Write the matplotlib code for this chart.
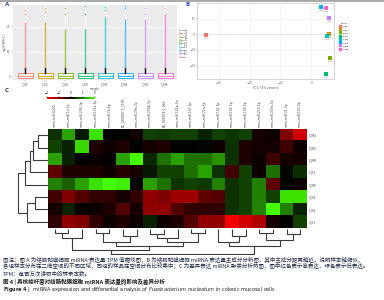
import numpy as np
import matplotlib
matplotlib.use('Agg')
import matplotlib.pyplot as plt
from matplotlib.colors import LinearSegmentedColormap
from matplotlib.collections import LineCollection
from matplotlib.patches import Patch
from matplotlib.lines import Line2D

CJK = ['Noto Sans CJK SC', 'DejaVu Sans']

# ---- data ----
samples = ['C_K1', 'C_K2', 'C_K4', 'C_K8', 'C_M1', 'C_M4', 'C_M5', 'C_M8']
colors = ['#F8766D', '#CD9600', '#7CAE00', '#00BE67',
          '#00BFC4', '#00A9FF', '#C77CFF', '#FF61CC']

# panel A: TPM boxplot summary per sample
box_q1 = [-0.5, -0.5, -0.5, -0.5, -0.5, -0.5, -0.5, -0.5]
box_med = [0.3, 0.3, 0.3, 0.3, 0.3, 0.3, 0.3, 0.3]
box_q3 = [1.5, 1.5, 1.5, 1.5, 1.5, 1.5, 1.5, 1.5]
whisk_hi = [3.5, 3.5, 3.5, 3.5, 3.5, 3.5, 3.5, 3.5]
dense_top = [22, 22, 19, 19, 24, 23, 23, 25]
sparse_out = [[25, 27], [26, 27.5], [25, 27.5], [25, 28.3],
              [27, 28], [27.5, 28.5], [25, 27.5], [27.5]]

# panel B: PCA
pc1 = [-34, 5.8, 6.1, 4.8, 5.1, 3.2, 5.8, 4.8]
pc2 = [-0.3, 0.3, -15, -25.5, -1, 17.7, 10.6, 17]

# panel C: heatmap
row_names = ['C_M4', 'C_M1', 'C_M8', 'C_K2', 'C_M5', 'C_K4', 'C_K8', 'C_K1']
col_names = ['mmu-miR-6240', 'mmu-miR-1a-3p', 'mmu-miR-206-3p', 'mmu-miR-133a-3p',
             'mmu-miR-7a-5p', 'NC_000067.7_1185', 'mmu-miR-29a-3p',
             'mmu-miR-200b-3p', 'NC_000074.6_861', 'mmu-miR-145a-5p',
             'mmu-miR-143-3p', 'mmu-miR-21a-5p', 'mmu-miR-141-3p',
             'mmu-miR-192-5p', 'mmu-miR-194-5p', 'mmu-miR-215-5p',
             'mmu-miR-200a-3p', 'mmu-miR-31-5p', 'mmu-miR-155-5p']
z_m4 = [0.38, 1.25, 0.2, 1.75, -0.05, 0.02, -0.17, 0.5, 0.45, 0.5, 0.5, 0.25, 0.5, 0.4, 0.5, -0.17, -0.12, -1.0, -1.63]
z_m1 = [0.5, 0.25, 1.7, -0.25, -0.12, -0.25, 0.02, -0.17, -0.25, 0.02, 0.02, 0.05, -0.12, 0.38, -0.25, -0.17, -0.17, -0.5, -0.12]
z_m8 = [1.25, 0.25, 0.0, -0.08, -0.03, 1.25, 2.0, 0.3, 0.88, 1.25, 0.88, 0.88, 1.15, 0.38, -0.25, -0.08, -0.5, -0.17, -0.17]
z_k2 = [-0.75, -0.25, -0.25, -0.25, -0.12, -0.3, -0.17, 0.2, 0.5, 0.5, 0.88, 1.25, 0.38, -0.5, 0.5, -0.12, 0.88, 0.05, 0.35]
z_m5 = [1.0, 0.75, 1.25, 1.75, 2.0, 1.85, 0.0, 1.25, 0.88, 0.38, 0.5, 0.45, 1.0, 0.38, 0.5, 1.0, -0.75, 0.05, -0.12]
z_k4 = [-0.5, -1.0, -0.63, -0.38, -0.38, -0.17, -0.38, -1.13, -1.0, -1.25, -1.25, -0.75, -0.63, 0.38, 0.5, 1.0, 0.5, 1.75, 1.75]
z_k8 = [-0.17, 0.25, -0.03, -0.12, -0.25, -0.63, -0.17, -1.13, -1.13, -0.63, -0.38, -0.38, -0.38, 0.38, 0.5, 1.0, 2.0, 1.0, 0.25]
z_k1 = [-0.38, -1.13, -1.0, -0.38, -0.12, -0.25, -0.12, 0.25, -0.12, -0.25, -0.63, -1.13, -1.13, -1.88, -1.63, -1.38, -0.17, 0.0, 0.5]

# dendrograms: (left child, right child, height); leaves are 0..n-1
row_merges = [(0, 1, 1.0), (8, 2, 1.5), (9, 3, 1.8), (10, 4, 2.3),
              (5, 6, 1.3), (12, 7, 2.1), (11, 13, 3.0)]
col_merges = [(0, 1, 1.0), (19, 2, 2.0), (3, 4, 1.0), (5, 6, 1.5),
              (21, 22, 3.0), (7, 8, 1.2), (9, 24, 2.0), (10, 11, 1.0),
              (25, 26, 3.0), (23, 27, 4.0), (20, 28, 5.0), (13, 14, 1.5),
              (12, 30, 3.0), (15, 16, 1.0), (17, 18, 1.2), (32, 33, 2.5),
              (31, 34, 4.0), (29, 35, 6.0)]


def dendro_segments(merges, n, orient):
    pos = {i: float(i) for i in range(n)}
    hgt = {i: 0.0 for i in range(n)}
    segs = []
    for k, (a, b, h) in enumerate(merges):
        xa, xb = pos[a], pos[b]
        if orient == 'left':
            segs.append([(hgt[a], xa), (h, xa), (h, xb), (hgt[b], xb)])
        else:
            segs.append([(xa, hgt[a]), (xa, h), (xb, h), (xb, hgt[b])])
        pos[n + k] = (xa + xb) / 2
        hgt[n + k] = h
    return segs


W, H = 384.0, 300.0


def rect(x0, y0, x1, y1):
    return [x0 / W, 1 - y1 / H, (x1 - x0) / W, (y1 - y0) / H]


fig = plt.figure(figsize=(3.84, 3.0), dpi=100)
fig.add_artist(Line2D([0, 1], [0.998, 0.998], color='#9a9a9a', lw=1.2))

# ---- panel A ----
axA = fig.add_axes(rect(13, 5, 177, 80))
axA.set_facecolor('#EBEBEB')
xs = np.arange(1, len(samples) + 1)
stats = []
for i in range(len(samples)):
    stats.append(dict(med=box_med[i], q1=box_q1[i], q3=box_q3[i],
                      whislo=box_q1[i], whishi=whisk_hi[i], fliers=[]))
bp = axA.bxp(stats, positions=xs, widths=0.75, patch_artist=True,
             showfliers=False, showcaps=False)
for i, c in enumerate(colors):
    bp['boxes'][i].set(facecolor='white', edgecolor=c, lw=0.7, alpha=0.85)
    bp['medians'][i].set(color=c, lw=0.6)
axA.vlines(xs, whisk_hi, dense_top, colors=colors, lw=1.0, alpha=0.7)
for i, c in enumerate(colors):
    axA.scatter([xs[i]] * len(sparse_out[i]), sparse_out[i], s=1.5, color=c,
                alpha=0.6, lw=0)
axA.set_xlim(0.4, 8.6)
axA.set_ylim(-1.2, 28.8)
axA.set_yticks([0, 10, 20])
axA.set_xticks(xs)
axA.set_xticklabels(samples)
axA.grid(color='white', lw=0.6)
axA.set_axisbelow(True)
for s in axA.spines.values():
    s.set_visible(False)
axA.tick_params(labelsize=2, length=1, width=0.3, pad=0.8, colors='#555555')
axA.set_xlabel('sample', fontsize=2, labelpad=0.5, color='#555555')
axA.set_ylabel('log2(TPM+1)', fontsize=2, labelpad=0.5, color='#555555')
axA.legend(handles=[Patch(facecolor=c, edgecolor=c, alpha=0.35) for c in colors],
           labels=samples, title='sample', fontsize=1.4, title_fontsize=1.5,
           loc='upper left', bbox_to_anchor=(177.5 / W, 1 - 29 / H),
           bbox_transform=fig.transFigure, frameon=False, handlelength=0.8,
           handleheight=0.8, labelspacing=0.7, borderpad=0, handletextpad=0.3)
fig.text(5 / W, 1 - 5 / H, 'A', fontsize=4, fontweight='bold', color='#3355aa',
         va='center')

# ---- panel B ----
axB = fig.add_axes(rect(197, 3, 334, 79))
axB.set_facecolor('white')
axB.axhline(0, color='#cccccc', lw=0.5, ls=(0, (2, 2)))
for i in range(len(samples)):
    axB.scatter(pc1[i], pc2[i], s=5, marker='s', color=colors[i], lw=0, zorder=3)
    axB.text(pc1[i], pc2[i] - 1.8, samples[i], fontsize=1.6, color='#777777',
             ha='center', va='top')
axB.set_xlim(-37, 7.3)
axB.set_ylim(-28.7, 20.3)
axB.set_xticks([-30, -20, -10, 0])
axB.set_yticks([-20, -10, 0, 10])
axB.grid(color='#f0f0f0', lw=0.5)
axB.set_axisbelow(True)
for s in axB.spines.values():
    s.set_color('#cccccc')
    s.set_linewidth(0.6)
axB.tick_params(labelsize=2, length=1, width=0.3, pad=0.5, colors='#666666')
axB.set_xlabel('PC1: 54% variance', fontsize=2, labelpad=0.8, color='#555555')
axB.set_ylabel('PC2: 21% variance', fontsize=2, labelpad=0.2, color='#555555')
axB.legend(handles=[Line2D([], [], marker='s', ls='', color=c, markersize=1.8)
                    for c in colors],
           labels=samples, title='group', fontsize=1.6, title_fontsize=1.7,
           loc='upper left', bbox_to_anchor=(338 / W, 1 - 22 / H),
           bbox_transform=fig.transFigure, frameon=False, handlelength=0.8,
           labelspacing=0.5, borderpad=0)
fig.text(186 / W, 1 - 5 / H, 'B', fontsize=4, fontweight='bold', color='#3355aa',
         va='center')

# ---- panel C ----
mat = np.array([z_m4, z_m1, z_m8, z_k2, z_m5, z_k4, z_k8, z_k1])
cmap = LinearSegmentedColormap.from_list(
    'rg', [(0, '#ff0000'), (0.5, '#000000'), (1, '#44ff00')])

# dendrogram axes first, heatmap on top
axR = fig.add_axes(rect(15, 129, 48, 228))
axR.add_collection(LineCollection(dendro_segments(row_merges, len(row_names), 'left'),
                                  colors='#3a3a3a', linewidths=0.8))
axR.set_ylim(len(row_names) - 0.5, -0.5)
axR.set_xlim(3.3, 0)
axR.set_axis_off()

axD = fig.add_axes(rect(48, 229, 307, 255))
axD.add_collection(LineCollection(dendro_segments(col_merges, len(col_names), 'bottom'),
                                  colors='#3a3a3a', linewidths=0.8))
axD.set_xlim(-0.5, len(col_names) - 0.5)
axD.set_ylim(6.3, -0.1)
axD.set_axis_off()

axC = fig.add_axes(rect(48, 129, 307, 228))
im = axC.imshow(mat, cmap=cmap, vmin=-2, vmax=2, aspect='auto',
                interpolation='nearest')
axC.set_xticks(np.arange(len(col_names)))
axC.set_xticklabels(col_names, rotation=90, fontsize=2.2, color='#444444')
axC.xaxis.tick_top()
axC.set_yticks(np.arange(len(row_names)))
axC.set_yticklabels(row_names, fontsize=2.2, color='#444444')
axC.yaxis.tick_right()
axC.tick_params(length=0, pad=1.5)
for s in axC.spines.values():
    s.set_visible(False)

axCB = fig.add_axes(rect(47, 96.5, 95, 99))
axCB.imshow(np.linspace(-2, 2, 100)[None, :], cmap=cmap, aspect='auto',
            extent=[-2, 2, 0, 1])
axCB.set_yticks([])
axCB.set_xticks([-2, -1, 0, 1, 2])
axCB.xaxis.tick_top()
axCB.tick_params(labelsize=2, length=0.8, width=0.3, pad=0.5)
for s in axCB.spines.values():
    s.set_visible(False)
fig.text(5 / W, 1 - 91 / H, 'C', fontsize=4, fontweight='bold', color='#333333',
         va='center')

# ---- caption ----
cap_color = '#1f2a44'
fig.text(3 / W, 1 - 259 / H,
         '图注：图 A 为结肠黏膜细胞 miRNA 表达量 TPM 值箱线图，B 为结肠黏膜细胞 miRNA 表达量主成分分析图，'
         '其中主成分距离越近，说明样本越相似，',
         fontsize=3.95, family=CJK, color=cap_color, va='center')
fig.text(3 / W, 1 - 266 / H,
         '各组样本分布在二维空间的不同区域，同组的样品在空间分布比较集中；C 为差异表达 miRNA 聚类分析热图，'
         '图中红色表示高表达，绿色表示低表达。',
         fontsize=3.95, family=CJK, color=cap_color, va='center')
fig.text(3 / W, 1 - 273 / H, 'TPM：每百万次读取中的转录本数。',
         fontsize=3.95, family=CJK, color=cap_color, va='center')
fig.text(3 / W, 1 - 282 / H,
         '图 4 | 具核梭杆菌对结肠黏膜细胞 miRNA 表达量的影响及差异分析',
         fontsize=4.0, family=CJK, color='#222222', fontweight='bold', va='center')
fig.text(3 / W, 1 - 290 / H,
         r'$\bf{Figure\ 4\ |}$  miRNA expression and differential analysis of '
         r'$\it{Fusobacterium\ nucleatum}$ in colonic mucosal cells',
         fontsize=3.65, color='#222222', va='center')

fig.savefig('out.png', dpi=100)
